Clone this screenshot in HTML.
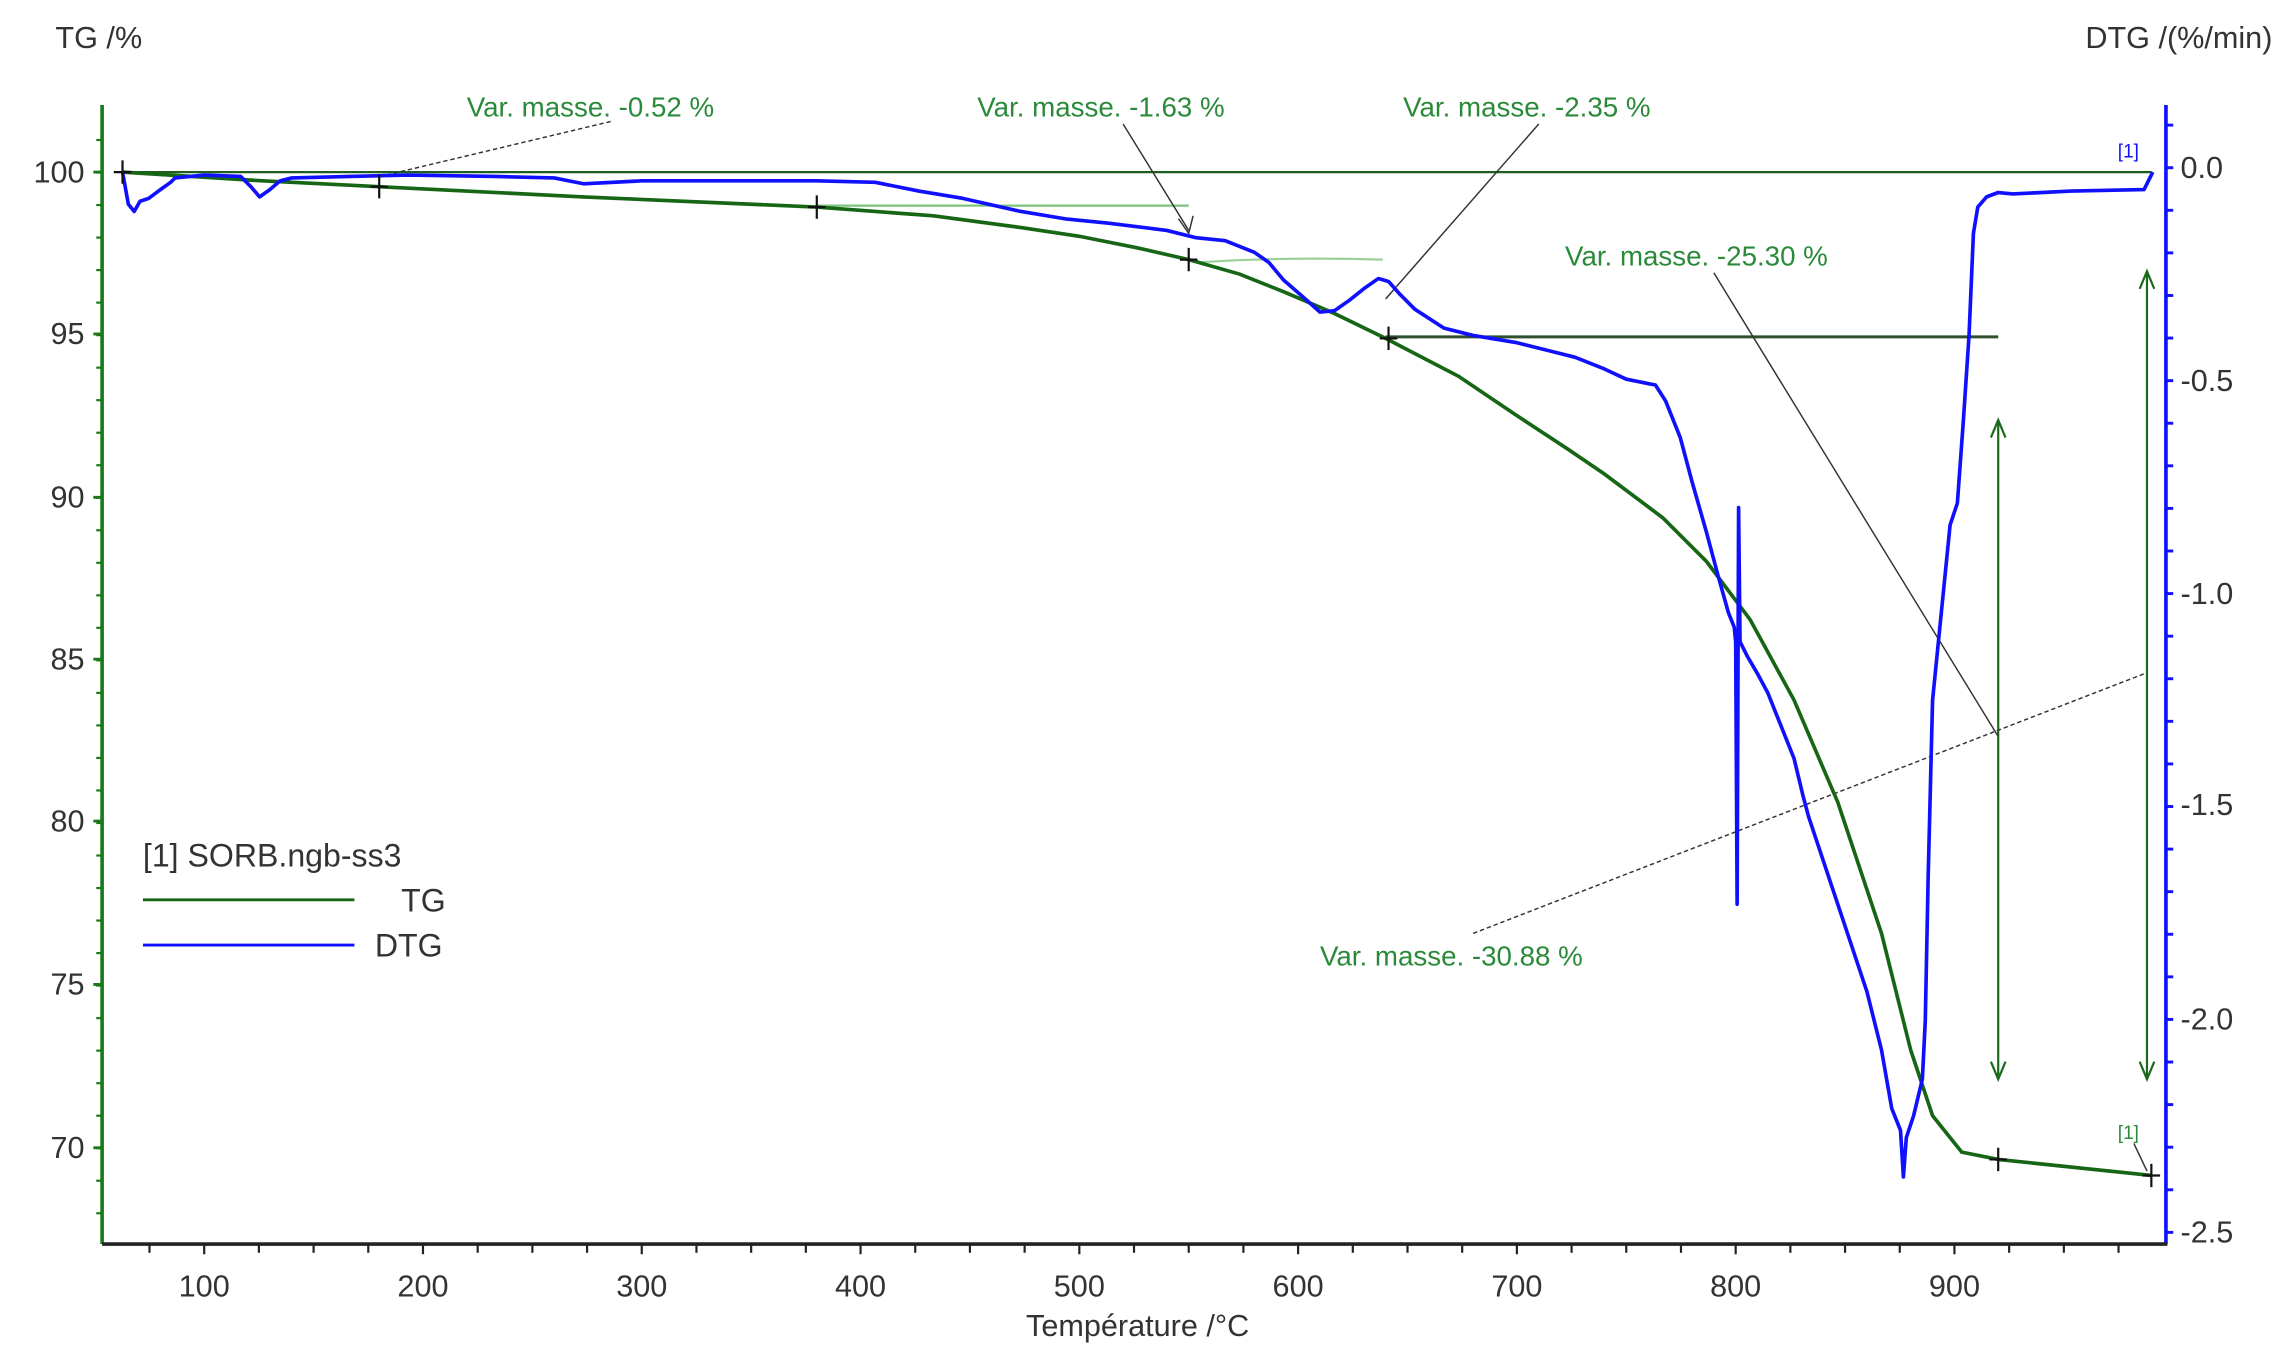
<!DOCTYPE html>
<html><head><meta charset="utf-8"><style>
html,body{margin:0;padding:0;background:#fff;}
svg{display:block;}
text{font-family:"Liberation Sans",sans-serif;}
</style></head><body>
<svg width="2287" height="1354" viewBox="0 0 1568 928.4" preserveAspectRatio="none" xmlns="http://www.w3.org/2000/svg">
<rect width="1568" height="928.4" fill="#fff"/>
<!-- axes -->
<line x1="70" y1="72" x2="70" y2="853" stroke="#1a7a1a" stroke-width="2.5"/>
<line x1="1485" y1="72" x2="1485" y2="853" stroke="#1010ff" stroke-width="2.5"/>
<line x1="70" y1="853" x2="1486" y2="853" stroke="#222" stroke-width="2.5"/>
<g stroke="#1a7a1a" stroke-width="2">
<line x1="64" y1="118" x2="70" y2="118"/><line x1="64" y1="229" x2="70" y2="229"/><line x1="64" y1="341" x2="70" y2="341"/><line x1="64" y1="452" x2="70" y2="452"/><line x1="64" y1="563" x2="70" y2="563"/><line x1="64" y1="675" x2="70" y2="675"/><line x1="64" y1="787" x2="70" y2="787"/>
</g>
<g stroke="#1a7a1a" stroke-width="1.5" id="lmin"></g>
<g stroke="#1010ff" stroke-width="2" id="rmin"></g>
<g stroke="#222" stroke-width="1.5" id="xmin"></g>
<g font-size="21" fill="#333">
<text x="58" y="125" text-anchor="end">100</text><text x="58" y="236" text-anchor="end">95</text><text x="58" y="348" text-anchor="end">90</text><text x="58" y="459" text-anchor="end">85</text><text x="58" y="570" text-anchor="end">80</text><text x="58" y="682" text-anchor="end">75</text><text x="58" y="794" text-anchor="end">70</text>
<text x="1495" y="122">0.0</text><text x="1495" y="268">-0.5</text><text x="1495" y="414">-1.0</text><text x="1495" y="559">-1.5</text><text x="1495" y="706">-2.0</text><text x="1495" y="852">-2.5</text>
<g text-anchor="middle">
<text x="140" y="889">100</text><text x="290" y="889">200</text><text x="440" y="889">300</text><text x="590" y="889">400</text><text x="740" y="889">500</text><text x="890" y="889">600</text><text x="1040" y="889">700</text><text x="1190" y="889">800</text><text x="1340" y="889">900</text>
<text x="780" y="916">Température /°C</text></g>
<text x="38" y="33">TG /%</text>
<text x="1558" y="33" text-anchor="end">DTG /(%/min)</text>
</g>
<!-- annotation lines -->
<line x1="84" y1="118" x2="1475" y2="118" stroke="#1e5e1e" stroke-width="1.5"/>
<line x1="560" y1="141" x2="815" y2="141" stroke="#7cc47c" stroke-width="1.5"/>
<path d="M820 180 Q880 176 948 178" stroke="#9ad09a" stroke-width="1.5" fill="none"/>
<line x1="950" y1="231" x2="1370" y2="231" stroke="#2f4f2f" stroke-width="2"/>
<g stroke="#1a6a1a" stroke-width="1.5" fill="none">
<line x1="1370" y1="290" x2="1370" y2="738"/><path d="M1365 300 L1370 288 L1375 300 M1365 728 L1370 740 L1375 728"/>
<line x1="1472" y1="186" x2="1472" y2="738"/><path d="M1467 198 L1472 186 L1477 198 M1467 728 L1472 740 L1477 728"/>
</g>
<g stroke="#333" stroke-width="1" fill="none">
<line x1="265" y1="120" x2="420" y2="83" stroke-dasharray="3,2"/>
<line x1="770" y1="85" x2="815" y2="158"/><path d="M808 150 L815 160 L818 148"/>
<line x1="1055" y1="85" x2="950" y2="205"/>
<line x1="1175" y1="187" x2="1370" y2="505"/>
<line x1="1010" y1="640" x2="1470" y2="462" stroke-dasharray="3,2"/>
<line x1="1463" y1="784" x2="1472" y2="803"/>
</g>
<!-- TG -->
<path d="M84 118 L180 124 L260 128 L400 135 L560 142 L640 148 L700 156 L740 162 L780 170 L815 178 L850 188 L880 200 L915 215 L950 232 L1000 258 L1040 285 L1075 308 L1100 325 L1140 355 L1170 385 L1200 425 L1230 480 L1260 550 L1290 640 L1310 720 L1325 765 L1345 790 L1370 795 L1475 806" stroke="#166616" stroke-width="2.5" fill="none"/>
<!-- DTG -->
<path d="M84 118 L88 140 L92 145 L96 138 L102 136 L110 130 L117 125 L120 122 L140 120 L165 121 L172 128 L178 135 L185 130 L192 124 L200 122 L240 121 L280 120 L340 121 L380 122 L400 126 L440 124 L500 124 L560 124 L600 125 L630 131 L660 136 L700 145 L730 150 L760 153 L800 158 L820 163 L840 165 L860 173 L870 180 L880 192 L895 205 L905 214 L915 213 L925 206 L935 198 L945 191 L952 193 L960 202 L970 212 L990 225 L1010 230 L1040 235 L1060 240 L1080 245 L1100 253 L1115 260 L1135 264 L1142 275 L1152 300 L1160 330 L1170 365 L1178 395 L1185 420 L1189 430 L1190 440 L1191 620 L1192 348 L1193 440 L1198 450 L1205 462 L1212 475 L1220 495 L1230 520 L1236 545 L1240 560 L1250 590 L1260 620 L1270 650 L1280 680 L1290 720 L1297 760 L1303 775 L1305 807 L1307 780 L1312 765 L1318 740 L1320 700 L1322 600 L1325 480 L1329 440 L1333 400 L1337 360 L1342 345 L1346 290 L1350 230 L1353 160 L1356 142 L1362 135 L1370 132 L1380 133 L1420 131 L1470 130 L1476 118" stroke="#1010ff" stroke-width="2.5" fill="none" stroke-linejoin="round"/>
<!-- crosses -->
<g stroke="#111" stroke-width="1.5">
<path d="M78 118 H90 M84 110 V126"/><path d="M254 128 H266 M260 120 V136"/><path d="M554 142 H566 M560 134 V150"/><path d="M809 178 H821 M815 170 V186"/><path d="M946 232 H958 M952 224 V240"/><path d="M1364 795 H1376 M1370 787 V803"/><path d="M1469 806 H1481 M1475 798 V814"/>
</g>
<g font-size="19" fill="#2a8a3a">
<text x="320" y="80">Var. masse. -0.52 %</text>
<text x="670" y="80">Var. masse. -1.63 %</text>
<text x="962" y="80">Var. masse. -2.35 %</text>
<text x="1073" y="182">Var. masse. -25.30 %</text>
<text x="905" y="662">Var. masse. -30.88 %</text>
<text x="1452" y="781" font-size="13">[1]</text>
</g>
<text x="1452" y="108" font-size="13" fill="#1010ff">[1]</text>
<!-- legend -->
<text x="98" y="594" font-size="22" fill="#333">[1] SORB.ngb-ss3</text>
<line x1="98" y1="617" x2="243" y2="617" stroke="#166616" stroke-width="2"/>
<text x="275" y="625" font-size="22" fill="#333">TG</text>
<line x1="98" y1="648" x2="243" y2="648" stroke="#1010ff" stroke-width="2"/>
<text x="257" y="656" font-size="22" fill="#333">DTG</text>
<script>
var ns="http://www.w3.org/2000/svg";
function ln(g,x1,y1,x2,y2){var l=document.createElementNS(ns,"line");l.setAttribute("x1",x1);l.setAttribute("y1",y1);l.setAttribute("x2",x2);l.setAttribute("y2",y2);document.getElementById(g).appendChild(l);}
for(var v=72;v>=68;v--){} 
for(var i=0;i<35;i++){var y=96+i*22.3;if(y>72&&y<853)ln("lmin",66,y,70,y);}
for(var j=0;j<=27;j++){var y2=115+j*29.2-29.2;if(y2>72&&y2<853)ln("rmin",1485,y2,1490,y2);}
for(var t=75;t<=1000;t+=25){var x=140+(t-100)*1.5;if(x>70&&x<1486)ln("xmin",x,853,x,(t%100==0)?860:859);}
</script>
</svg>
</body></html>
